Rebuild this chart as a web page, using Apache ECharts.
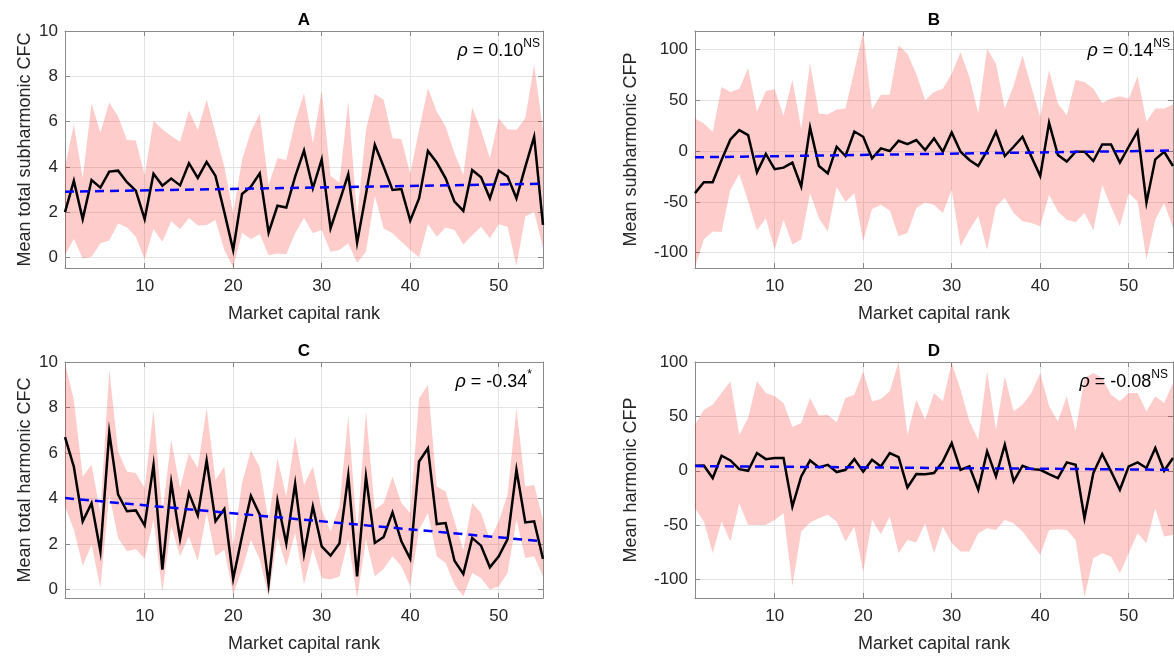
<!DOCTYPE html>
<html>
<head>
<meta charset="utf-8">
<script src="https://cdn.jsdelivr.net/npm/echarts@6/dist/echarts.min.js"></script>
<style>
  html, body { margin: 0; padding: 0; background: #ffffff; }
  #chart { width: 1174px; height: 658px; }
</style>
</head>
<body>
<div id="chart"></div>
<script>
// Market capital rank (x values shared by every panel)
const rank = [1,2,3,4,5,6,7,8,9,10,11,12,13,14,15,16,17,18,19,20,21,22,23,24,25,26,27,28,29,30,
              31,32,33,34,35,36,37,38,39,40,41,42,43,44,45,46,47,48,49,50,51,52,53,54,55];

// A: mean total subharmonic CFC, with upper / lower band and fitted trend (rank 1 and 55)
const subCfcMean  = [2.0,3.38,1.69,3.42,3.08,3.79,3.83,3.32,2.95,1.69, 3.69,3.17,3.48,3.18,4.16,3.51,4.22,3.60,2.0,0.32,
                     2.8,3.12,3.71,1.09,2.28,2.2,3.57,4.72,3.05,4.33, 1.28,2.46,3.67,0.65,2.8,4.97,4.0,2.98,3.02,1.62,
                     2.6,4.7,4.19,3.49,2.46,2.05,3.86,3.54,2.61,3.83, 3.57,2.61,4.0,5.33,1.43];
const subCfcUpper = [4.0,5.88,3.49,6.81,5.51,6.84,6.22,5.19,5.16,3.64, 6.04,5.66,5.36,5.11,6.49,5.63,6.96,5.49,4.01,1.95,
                     4.31,5.56,6.34,3.2,4.38,4.3,6.0,7.25,5.04,7.37, 3.6,3.3,6.9,1.8,5.63,7.22,6.96,5.26,5.23,3.71,
                     5.63,7.47,6.44,5.78,4.6,3.64,6.63,5.63,4.38,6.15, 5.66,5.63,6.15,8.51,5.63];
const subCfcLower = [0.1,0.81,-0.05,0.03,0.62,0.74,1.5,1.32,0.91,-0.09, 1.25,0.69,1.59,1.24,1.74,1.41,1.43,1.65,0.32,-0.45,
                     1.09,0.81,1.02,0.09,0.17,0.14,1.06,1.75,1.06,1.21, 0.25,0.32,0.62,-0.24,0.25,2.71,1.28,1.06,0.69,0.32,
                     0.0,1.47,0.91,1.32,1.21,0.57,0.98,1.35,0.84,1.46, 1.35,-0.38,1.8,2.02,0.4];
const subCfcTrend = [2.9, 3.25];

// B: mean subharmonic CFP
const subCfpMean  = [-41.4,-30.7,-30.7,-8.8,11.4,20.5,15.7,-20.9,-2.9,-17.9, -16.3,-11.4,-34.9,23.2,-14.7,-21.9,4.2,-4.9,19.2,14.0,
                     -7.2,2.6,0,10.1,6.8,10.8,1,12.4,-0.7,18.3, -0.7,-8.8,-14.7,0.3,18.9,-4.9,4.2,14.0,-5.5,-24.5,
                     27.7,-3.9,-10.4,-0.7,-0.7,-9.8,6.5,6.5,-11.4,4.2, 19.6,-50.6,-8.2,-0.7,-14.7];
const subCfpUpper = [32,27,19,63,58,61,81.5,38.5,59,60.7, 35,70,22,86,37,36,40.8,41.7,79,117,
                     40.8,55.4,55.4,103.7,95.6,76,50,58,61.3,76, 97,72.7,36.8,100.5,85.8,41.7,64.6,94,63,33.6,
                     79.3,46.6,35.2,70,67.8,61.3,47.3,51.5,53.8,51.5, 73.4,28.7,41.7,41.7,45.7];
const subCfpLower = [-114,-87,-79,-79.6,-38,-22.5,-49.6,-78,-66,-97, -67.5,-92,-87,-41.4,-66,-79,-35,-50,-41.4,-88.7,
                     -57,-52.8,-58.4,-83.8,-80.6,-56,-50.6,-52.8,-61,-38, -93.6,-77.3,-64,-97,-54.5,-46.3,-61,-69,-70.8,-74,
                     -43,-59.4,-67.5,-70,-61,-78,-33.3,-54.5,-74,-41.4, -49.6,-106.7,-67.5,-51.2,-75.7];
const subCfpTrend = [-6.2, 0.5];

// C: mean total harmonic CFC
const harCfcMean  = [6.7,5.4,3.0,3.8,1.68,6.9,4.17,3.44,3.48,2.82, 5.48,0.88,4.7,2.22,4.24,3.26,5.67,3.0,3.54,0.48,
                     2.34,4.12,3.29,0.25,3.9,2.02,4.65,1.56,3.65,1.9, 1.49,2.02,5.01,0.58,4.97,2.05,2.31,3.39,2.12,1.35,
                     5.63,6.21,2.88,2.92,1.27,0.69,2.27,1.93,0.98,1.46, 2.22,5.26,2.95,3.0,1.35];
const harCfcUpper = [9.94,8.33,4.97,5.48,3.36,9.65,6.07,5.19,5.12,4.46, 7.89,3.36,6.58,4.46,5.99,5.34,7.97,4.82,5.41,1.9,
                     4.68,6.11,5.38,3.0,5.77,4.09,6.73,4.6,5.41,3.51, 2.56,3.65,7.6,2.5,7.82,3.51,3.8,4.97,3.8,3.36,
                     8.41,8.99,4.53,4.31,3.0,1.75,3.8,3.36,2.19,3.0, 4.17,7.97,4.53,4.6,3.07];
const harCfcLower = [3.65,2.63,1.05,1.97,0.07,4.17,2.27,1.68,1.78,1.35, 3.07,-0.1,2.78,1.46,2.34,1.24,3.36,1.46,1.75,-0.22,
                     0.88,2.19,1.32,-0.32,2.31,1.02,2.49,0.22,1.8,0.51, 0.44,0.58,2.19,-0.37,2.19,0.58,0.91,1.46,1.02,0.15,
                     2.63,3.36,1.46,1.17,0.22,-0.29,0.73,0.51,0.0,0.15, 0.73,3.07,1.39,1.46,0.58];
const harCfcTrend = [4.02, 2.12];

// D: mean harmonic CFP
const harCfpMean  = [4.6,4.9,-6.7,13.8,9.5,1.5,0,16.3,10.7,11.7, 11.7,-32.9,-5.2,9.5,3.1,5.5,-1.2,0.9,10.7,-0.9,
                     10.1,4,16.3,12.6,-15.4,-3,-3.1,-2.1,8.6,25.5, 0.9,4.0,-17.5,17.8,-5.2,24,-9.8,4.6,1.5,0.9,
                     -3.1,-6.7,7.7,5.5,-43.6,-2.1,15.4,-0.6,-17.5,4, 7.7,2.5,20.9,0,11.7];
const harCfpUpper = [42.4,56.2,60.8,71.6,82.3,33.2,48.5,82.3,71.6,68.5, 62.4,40.2,43.9,67,50.7,51.6,44.5,67,70,91.5,
                     63.9,66,73.1,100,33.2,65.4,47,71.6,63.9,99.2, 74.7,45.5,28.6,91.5,37.8,86.9,54.7,60.8,71.6,90,
                     59.3,45.5,68.5,36.3,85.4,90,85.4,70,63.9,71.6, 71.6,54.7,68.5,62.4,80.8];
const harCfpLower = [-34.4,-46.7,-75.9,-46.7,-65.1,-29.8,-49.8,-49.8,-49.8,-45.2, -39,-106,-55.9,-47.6,-43.6,-40.5,-46.7,-65.1,-51.3,-92.8,
                     -45.2,-58.4,-42.1,-75.9,-63.6,-66,-48.2,-75.9,-51.3,-66.7, -74.3,-74.3,-57.4,-52.8,-54.4,-45.2,-48.2,-55.9,-66.7,-77.4,
                     -54.4,-53.8,-54.4,-63.6,-116,-80.5,-75.9,-79,-94.3,-75.9, -57.4,-66.7,-34.4,-60.5,-59];
const harCfpTrend = [4.3, 0.9];

// Tick labels
const xTicks = [10, 20, 30, 40, 50];
const cfcTicks = [0, 2, 4, 6, 8, 10];
const cfpTicks = [-100, -50, 0, 50, 100];

// Panel titles, axis names and correlation annotations
const panelTitles = ['A', 'B', 'C', 'D'];
const yNames = ['Mean total subharmonic CFC', 'Mean subharmonic CFP', 'Mean total harmonic CFC', 'Mean harmonic CFP'];
const xName = 'Market capital rank';
const rhoValues = ['0.10', '0.14', '-0.34', '-0.08'];
const rhoMarks = ['NS', 'NS', '*', 'NS'];

const FONT = '"Liberation Sans", Arial, Helvetica, sans-serif';
const AXIS_COLOR = '#8a8a8a';
const GRID_COLOR = '#e4e4e4';
const TEXT_COLOR = '#262626';

const panels = [
  { mean: subCfcMean, upper: subCfcUpper, lower: subCfcLower, trend: subCfcTrend,
    yMin: -0.47, yMax: 10, yTicks: cfcTicks, box: [65, 31, 478, 237], yGap: 31, rhoPos: [540, 51] },
  { mean: subCfpMean, upper: subCfpUpper, lower: subCfpLower, trend: subCfpTrend,
    yMin: -115, yMax: 118, yTicks: cfpTicks, box: [695, 31, 478, 237], yGap: 55, rhoPos: [1170, 51] },
  { mean: harCfcMean, upper: harCfcUpper, lower: harCfcLower, trend: harCfcTrend,
    yMin: -0.37, yMax: 10, yTicks: cfcTicks, box: [65, 362, 478, 236], yGap: 31, rhoPos: [532, 382] },
  { mean: harCfpMean, upper: harCfpUpper, lower: harCfpLower, trend: harCfpTrend,
    yMin: -117, yMax: 100, yTicks: cfpTicks, box: [695, 362, 478, 236], yGap: 55, rhoPos: [1168, 382] }
];

const grids = [], xAxes = [], yAxes = [], series = [], graphics = [];
const lineStyle = { color: AXIS_COLOR, width: 1 };

panels.forEach((p, k) => {
  const [left, top, width, height] = p.box;
  grids.push({ left, top, width, height, containLabel: false, outerBoundsMode: 'none' });

  // bottom axis with labels, top axis closing the box
  xAxes.push({
    type: 'value', gridIndex: k, position: 'bottom', min: 1, max: 55,
    axisLine: { show: true, onZero: false, lineStyle },
    axisTick: { show: true, inside: true, length: 5, customValues: xTicks, lineStyle },
    axisLabel: { show: true, customValues: xTicks, margin: 10, fontSize: 17, color: TEXT_COLOR, fontFamily: FONT },
    splitLine: { show: true, lineStyle: { color: GRID_COLOR, width: 1 } },
    name: xName, nameLocation: 'middle', nameGap: 37,
    nameTextStyle: { fontSize: 18, color: TEXT_COLOR, fontFamily: FONT }
  });
  xAxes.push({
    type: 'value', gridIndex: k, position: 'top', min: 1, max: 55,
    axisLine: { show: true, onZero: false, lineStyle },
    axisTick: { show: true, inside: true, length: 5, customValues: xTicks, lineStyle },
    axisLabel: { show: false }, splitLine: { show: false }
  });

  // left axis with labels, right axis closing the box
  yAxes.push({
    type: 'value', gridIndex: k, position: 'left', min: p.yMin, max: p.yMax,
    axisLine: { show: true, onZero: false, lineStyle },
    axisTick: { show: true, inside: true, length: 5, customValues: p.yTicks, lineStyle },
    axisLabel: { show: true, customValues: p.yTicks, margin: 7, fontSize: 17, color: TEXT_COLOR, fontFamily: FONT },
    splitLine: { show: true, lineStyle: { color: GRID_COLOR, width: 1 } },
    name: yNames[k], nameLocation: 'middle', nameGap: p.yGap, nameRotate: 90,
    nameTextStyle: { fontSize: 18, color: TEXT_COLOR, fontFamily: FONT }
  });
  yAxes.push({
    type: 'value', gridIndex: k, position: 'right', min: p.yMin, max: p.yMax,
    axisLine: { show: true, onZero: false, lineStyle },
    axisTick: { show: true, inside: true, length: 5, customValues: p.yTicks, lineStyle },
    axisLabel: { show: false }, splitLine: { show: false }
  });

  const xi = 2 * k, yi = 2 * k;

  // shaded band between lower and upper values, drawn as one polygon
  series.push({
    type: 'custom', xAxisIndex: xi, yAxisIndex: yi, z: 2, silent: true,
    data: rank.map((r, i) => [r, p.lower[i], p.upper[i]]),
    encode: { x: 0, y: [1, 2] },
    renderItem: (params, api) => {
      if (params.dataIndex !== 0) return null;
      const pts = [];
      for (let i = 0; i < rank.length; i++) pts.push(api.coord([rank[i], p.upper[i]]));
      for (let i = rank.length - 1; i >= 0; i--) pts.push(api.coord([rank[i], p.lower[i]]));
      return { type: 'polygon', shape: { points: pts }, style: { fill: 'rgba(255,0,0,0.2)', stroke: null } };
    }
  });

  // mean curve
  series.push({
    type: 'line', xAxisIndex: xi, yAxisIndex: yi, z: 3,
    data: rank.map((r, i) => [r, p.mean[i]]),
    showSymbol: false, symbol: 'none',
    lineStyle: { color: '#000000', width: 2.5, join: 'miter' }
  });

  // linear trend between rank 1 and rank 55
  series.push({
    type: 'line', xAxisIndex: xi, yAxisIndex: yi, z: 4,
    data: [[rank[0], p.trend[0]], [rank[rank.length - 1], p.trend[1]]],
    showSymbol: false, symbol: 'none',
    lineStyle: { color: '#0000ff', width: 2.5, type: [9, 6] }
  });

  // panel letter
  graphics.push({
    type: 'text', x: left + width / 2, y: top - 11, silent: true,
    style: { text: panelTitles[k], font: 'bold 17px ' + FONT, fill: '#000000', align: 'center', verticalAlign: 'middle' }
  });

  // correlation annotation with superscript significance mark
  graphics.push({
    type: 'text', x: p.rhoPos[0], y: p.rhoPos[1], silent: true, z: 10,
    style: {
      text: '{g|ρ}{n| = ' + rhoValues[k] + '}{s|' + rhoMarks[k] + '}',
      align: 'right', verticalAlign: 'middle',
      rich: {
        g: { fontSize: 18, fontStyle: 'italic', fontFamily: FONT, fill: '#000000', color: '#000000', lineHeight: 26 },
        n: { fontSize: 18, fontFamily: FONT, fill: '#000000', color: '#000000', lineHeight: 26 },
        s: { fontSize: 12, fontFamily: FONT, fill: '#000000', color: '#000000', lineHeight: 12, verticalAlign: 'top' }
      }
    }
  });
});

const chart = echarts.init(document.getElementById('chart'), null, { renderer: 'canvas' });
chart.setOption({
  animation: false,
  backgroundColor: '#ffffff',
  grid: grids,
  xAxis: xAxes,
  yAxis: yAxes,
  series: series,
  graphic: graphics
});
</script>
</body>
</html>
